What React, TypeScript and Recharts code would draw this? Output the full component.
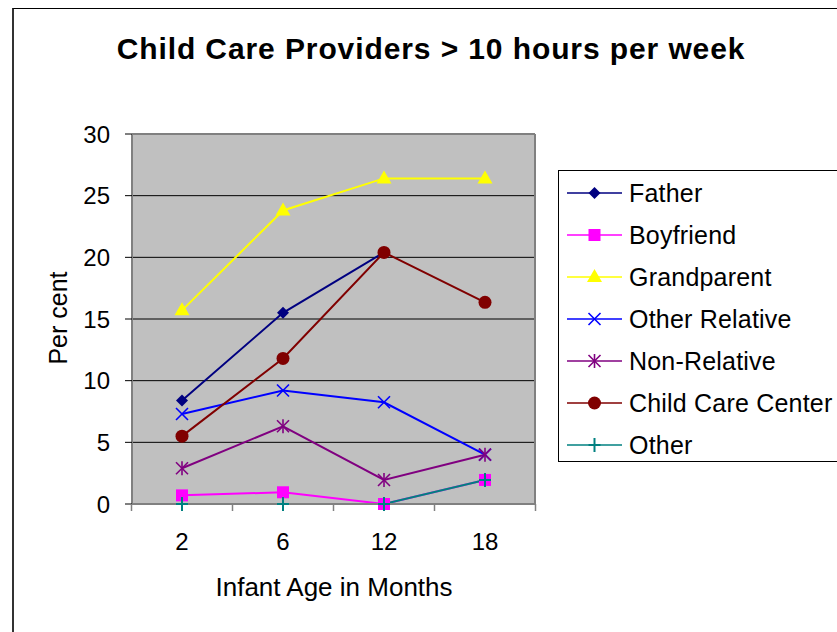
import React from 'react';
import {
  LineChart,
  Line,
  XAxis,
  YAxis,
  CartesianGrid,
  ReferenceLine,
} from 'recharts';

const ages = ['2', '6', '12', '18'];
const father = [8.4, 15.5, 20.4, null];
const boyfriend = [0.7, 0.95, 0, 1.95];
const grandparent = [15.7, 23.8, 26.4, 26.4];
const otherRelative = [7.3, 9.2, 8.25, 4.0];
const nonRelative = [2.9, 6.3, 1.95, 4.0];
const childCareCenter = [5.5, 11.8, 20.4, 16.35];
const other = [0, 0, 0, 1.95];
const yTicks = [0, 5, 10, 15, 20, 25, 30];

const FONT = '"Liberation Sans", Arial, sans-serif';
const HALF_BAND = 50.5;

const series = [
  { key: 'father', name: 'Father', color: '#000080', shape: 'diamond', values: father },
  { key: 'boyfriend', name: 'Boyfriend', color: '#FF00FF', shape: 'square', values: boyfriend },
  { key: 'grandparent', name: 'Grandparent', color: '#FFFF00', shape: 'triangle', values: grandparent },
  { key: 'otherRelative', name: 'Other Relative', color: '#0000FF', shape: 'x', values: otherRelative },
  { key: 'nonRelative', name: 'Non-Relative', color: '#800080', shape: 'star', values: nonRelative },
  { key: 'childCareCenter', name: 'Child Care Center', color: '#800000', shape: 'circle', values: childCareCenter },
  { key: 'other', name: 'Other', color: '#008080', shape: 'plus', values: other },
];

const data = ages.map((age, i) => {
  const row: Record<string, any> = { age };
  series.forEach((s) => {
    row[s.key] = s.values[i];
  });
  return row;
});

function markerShape(shape: string, color: string, cx: number, cy: number) {
  switch (shape) {
    case 'diamond':
      return <polygon points={`${cx},${cy - 6} ${cx + 6},${cy} ${cx},${cy + 6} ${cx - 6},${cy}`} fill={color} />;
    case 'square':
      return <rect x={cx - 6} y={cy - 6} width={12} height={12} fill={color} />;
    case 'triangle':
      return <polygon points={`${cx},${cy - 8} ${cx + 7.5},${cy + 5} ${cx - 7.5},${cy + 5}`} fill={color} />;
    case 'x':
      return (
        <g stroke={color} strokeWidth={1.6}>
          <line x1={cx - 6} y1={cy - 6} x2={cx + 6} y2={cy + 6} />
          <line x1={cx - 6} y1={cy + 6} x2={cx + 6} y2={cy - 6} />
        </g>
      );
    case 'star':
      return (
        <g stroke={color} strokeWidth={1.6}>
          <line x1={cx - 6} y1={cy - 6} x2={cx + 6} y2={cy + 6} />
          <line x1={cx - 6} y1={cy + 6} x2={cx + 6} y2={cy - 6} />
          <line x1={cx} y1={cy - 7} x2={cx} y2={cy + 7} />
        </g>
      );
    case 'circle':
      return <circle cx={cx} cy={cy} r={6.5} fill={color} />;
    case 'plus':
      return (
        <g stroke={color} strokeWidth={2}>
          <line x1={cx - 6} y1={cy} x2={cx + 6} y2={cy} />
          <line x1={cx} y1={cy - 7} x2={cx} y2={cy + 7} />
        </g>
      );
    default:
      return null;
  }
}

function makeDot(shape: string, color: string) {
  return (props: any) => {
    const { cx, cy, index, value } = props;
    if (cx == null || cy == null || value == null) return <g key={`d-${index}`} />;
    return <g key={`d-${index}`}>{markerShape(shape, color, cx, cy)}</g>;
  };
}

// category label plus Excel-style tick marks on the band boundaries
function AgeTick(props: any) {
  const { x, y, payload, index } = props;
  const last = index === ages.length - 1;
  return (
    <g>
      <line x1={x - HALF_BAND} y1={y} x2={x - HALF_BAND} y2={y + 7} stroke="#808080" strokeWidth={1.5} />
      {last && <line x1={x + HALF_BAND} y1={y} x2={x + HALF_BAND} y2={y + 7} stroke="#808080" strokeWidth={1.5} />}
      <text x={x} y={y + 29} dy="0.71em" textAnchor="middle" fontSize={24} fontFamily={FONT} fill="#000">
        {payload.value}
      </text>
    </g>
  );
}

// the legend box runs off the right edge of the picture
function LegendBox() {
  return (
    <div
      style={{
        position: 'absolute',
        left: 558,
        top: 170,
        width: 400,
        height: 292,
        border: '1px solid #000',
        background: '#fff',
        boxSizing: 'border-box',
        paddingTop: 1,
      }}
    >
      {series.map((s) => (
        <div key={s.key} style={{ height: 42, display: 'flex', alignItems: 'center' }}>
          <svg width={70} height={20} style={{ flex: 'none' }}>
            <line x1={8} y1={10} x2={63} y2={10} stroke={s.color} strokeWidth={1.5} />
            {markerShape(s.shape, s.color, 35.5, 10)}
          </svg>
          <span style={{ fontFamily: FONT, fontSize: 25, color: '#000', whiteSpace: 'nowrap', letterSpacing: 0.2 }}>
            {s.name}
          </span>
        </div>
      ))}
    </div>
  );
}

export default function App() {
  return (
    <div
      style={{
        position: 'fixed',
        left: 0,
        top: 0,
        width: 837,
        height: 632,
        overflow: 'hidden',
        background: '#fff',
      }}
    >
      <div
        style={{
          position: 'absolute',
          left: 12,
          top: 8,
          width: 1000,
          height: 1000,
          borderTop: '1px solid #000',
          borderLeft: '2px solid #333',
        }}
      />
      <div
        style={{
          position: 'absolute',
          left: 431,
          top: 49,
          transform: 'translate(-50%, -50%)',
          fontFamily: FONT,
          fontWeight: 'bold',
          fontSize: 30,
          letterSpacing: 0.9,
          lineHeight: 1,
          whiteSpace: 'nowrap',
        }}
      >
        Child Care Providers &gt; 10 hours per week
      </div>
      <div
        style={{
          position: 'absolute',
          left: 58,
          top: 318,
          transform: 'translate(-50%, -50%) rotate(-90deg)',
          fontFamily: FONT,
          fontSize: 25,
          lineHeight: 1,
          whiteSpace: 'nowrap',
        }}
      >
        Per cent
      </div>
      <div
        style={{
          position: 'absolute',
          left: 334,
          top: 587,
          transform: 'translate(-50%, -50%)',
          fontFamily: FONT,
          fontSize: 26,
          lineHeight: 1,
          whiteSpace: 'nowrap',
        }}
      >
        Infant Age in Months
      </div>
      <div style={{ position: 'absolute', left: 0, top: 0 }}>
        <LineChart
          width={837}
          height={632}
          data={data}
          margin={{ top: 134, right: 301, bottom: 98, left: 68 }}
        >
          <CartesianGrid vertical={false} stroke="#000" fill="#C0C0C0" fillOpacity={1} />
          <XAxis
            dataKey="age"
            padding={{ left: 50, right: 50 }}
            axisLine={{ stroke: '#808080', strokeWidth: 2 }}
            tickLine={false}
            tickSize={0}
            tickMargin={0}
            height={30}
            interval={0}
            tick={<AgeTick />}
          />
          <YAxis
            domain={[0, 30]}
            ticks={yTicks}
            width={64}
            tickSize={7}
            tickMargin={15}
            tickLine={{ stroke: '#000' }}
            axisLine={{ stroke: '#808080', strokeWidth: 2 }}
            tick={{ fontSize: 24, fill: '#000', fontFamily: FONT }}
          />
          <YAxis
            yAxisId="frame"
            orientation="right"
            domain={[0, 30]}
            width={1}
            tick={false}
            tickLine={false}
            axisLine={{ stroke: '#808080', strokeWidth: 2 }}
          />
          <ReferenceLine y={30} stroke="#808080" strokeWidth={2} />
          {series.map((s) => (
            <Line
              key={s.key}
              dataKey={s.key}
              name={s.name}
              stroke={s.color}
              strokeWidth={2}
              dot={makeDot(s.shape, s.color)}
              activeDot={false}
              isAnimationActive={false}
            />
          ))}
        </LineChart>
      </div>
      <LegendBox />
    </div>
  );
}
